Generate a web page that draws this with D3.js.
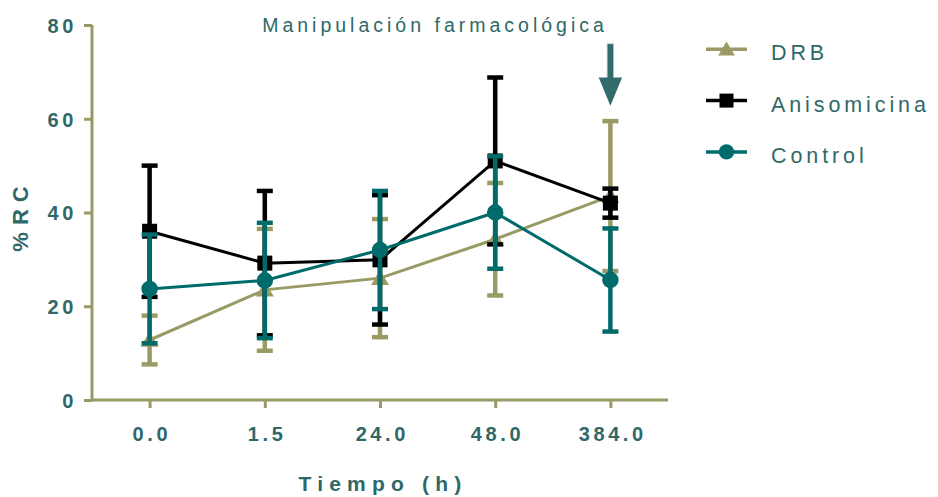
<!DOCTYPE html>
<html><head><meta charset="utf-8">
<script src="https://cdn.jsdelivr.net/npm/d3@7"></script>
<style>body{margin:0;background:#fff}svg{display:block}</style>
</head><body>
<svg id="c" width="938" height="497"></svg>
<script>
const categories = ["0.0","1.5","24.0","48.0","384.0"];
const yTicks = [0,20,40,60,80];
const drbMean = [12.8,23.5,26.0,34.3,43.5];
const drbErr  = [5.2,13.0,12.6,12.0,16.0];
const anisoMean = [36.0,29.2,29.9,51.0,42.0];
const anisoErr  = [14.0,15.4,13.8,17.8,3.1];
const ctrlMean = [23.7,25.5,32.0,40.0,25.6];
const ctrlErr  = [11.6,12.3,12.6,12.0,11.0];
const seriesNames = ["DRB","Anisomicina","Control"];
const seriesColors = ["#9a9a66","#000000","#006b6b"];
const seriesMarkers = ["triangle","square","circle"];
const arrowCategory = "384.0";
const titleText = "Manipulación farmacológica";

const series = [
  {name:seriesNames[0], mean:drbMean, err:drbErr, color:seriesColors[0], marker:seriesMarkers[0]},
  {name:seriesNames[1], mean:anisoMean, err:anisoErr, color:seriesColors[1], marker:seriesMarkers[1]},
  {name:seriesNames[2], mean:ctrlMean, err:ctrlErr, color:seriesColors[2], marker:seriesMarkers[2]}
];

const svg = d3.select("#c");
const axisColor = "#999966";
const textColor = "#2f6868";
const FONT = "Liberation Sans, Arial, sans-serif";
const L=92, R=668, T=25, B=400;
const x = d3.scalePoint().domain(categories).range([L,R]).padding(0.5);
const y = d3.scaleLinear().domain([0,80]).range([B,T]);

// axes
const yAx = svg.append("g").attr("transform",`translate(${L},0)`)
  .call(d3.axisLeft(y).tickValues(yTicks).tickSize(8).tickPadding(7).tickFormat(d3.format("d")));
const xAx = svg.append("g").attr("transform",`translate(0,${B})`)
  .call(d3.axisBottom(x).tickSize(8).tickPadding(19).tickSizeOuter(0));
[yAx,xAx].forEach(g=>{
  g.select(".domain").attr("stroke",axisColor).attr("stroke-width",3);
  g.selectAll(".tick line").attr("stroke",axisColor).attr("stroke-width",3);
  g.selectAll(".tick text").attr("fill",textColor).attr("font-family",FONT)
    .attr("font-weight","bold").attr("font-size",20).style("letter-spacing","3.6px");
});
xAx.selectAll(".tick text").attr("dx","1.8px");
xAx.select(".domain").attr("d",`M${L},0H${R}`);
yAx.select(".domain").attr("d",`M0,${T}V${B+1.5}`);
yAx.selectAll(".tick text").attr("dy","0.37em");

// axis titles
svg.append("text").attr("x",383).attr("y",491).attr("text-anchor","middle")
  .attr("fill",textColor).attr("font-family",FONT)
  .attr("font-weight","bold").attr("font-size",21).style("letter-spacing","6.2px").text("Tiempo (h)");
svg.append("text").attr("transform",`translate(28,${215.5}) rotate(-90)`).attr("text-anchor","middle")
  .attr("fill",textColor).attr("font-family",FONT)
  .attr("font-weight","bold").attr("font-size",22).style("letter-spacing","7px").text("%RC");

// title
svg.append("text").attr("x",435).attr("y",31.7).attr("text-anchor","middle")
  .attr("fill",textColor).attr("font-family",FONT)
  .attr("font-size",19.5).style("letter-spacing","4px").text(titleText);

// arrow (annotation marking the pharmacological manipulation)
const ax = x(arrowCategory);
svg.append("rect").attr("x",ax-3.3).attr("y",y(76)).attr("width",6.6).attr("height",y(68.5)-y(76))
  .attr("fill","#336b6b").attr("stroke","#c8d8d8").attr("stroke-width",0.8);
svg.append("path").attr("d",`M${ax-11.7},${y(68.8)}L${ax+11.7},${y(68.8)}L${ax},${y(62.8)}Z`).attr("fill","#336b6b");

function drawMarker(g, type, cx, cy, color, s){
  if(type==="circle") g.append("circle").attr("cx",cx).attr("cy",cy).attr("r",s*0.55).attr("fill",color);
  else if(type==="square") g.append("rect").attr("x",cx-s*0.5).attr("y",cy-s*0.5).attr("width",s).attr("height",s).attr("fill",color);
  else g.append("path").attr("d",`M${cx},${cy-s*0.55}L${cx+s*0.6},${cy+s*0.45}L${cx-s*0.6},${cy+s*0.45}Z`).attr("fill",color);
}

const plot = svg.append("g");
series.forEach(s=>{
  const g = plot.append("g");
  categories.forEach((c,i)=>{
    const cx=x(c), hi=y(s.mean[i]+s.err[i]), lo=y(s.mean[i]-s.err[i]);
    g.append("line").attr("x1",cx).attr("x2",cx).attr("y1",hi).attr("y2",lo).attr("stroke",s.color).attr("stroke-width",4.5);
    [hi,lo].forEach(v=>g.append("line").attr("x1",cx-8).attr("x2",cx+8).attr("y1",v).attr("y2",v).attr("stroke",s.color).attr("stroke-width",4.5));
  });
  g.append("path").datum(s.mean).attr("fill","none").attr("stroke",s.color).attr("stroke-width",3)
    .attr("d",d3.line().x((d,i)=>x(categories[i])).y(d=>y(d)));
  categories.forEach((c,i)=>drawMarker(g,s.marker,x(c),y(s.mean[i]),s.color,15));
});

// legend
const lg = svg.append("g");
series.forEach((s,i)=>{
  const yy = 49.3 + i*51.3;
  lg.append("line").attr("x1",706).attr("x2",747).attr("y1",yy).attr("y2",yy).attr("stroke",s.color).attr("stroke-width",3.5);
  drawMarker(lg,s.marker,726.5,yy,s.color,14);
  lg.append("text").attr("x",771).attr("y",yy+11).attr("fill",textColor)
    .attr("font-family",FONT).attr("font-size",21.5).style("letter-spacing","3.9px").text(s.name);
});
</script>
</body></html>
